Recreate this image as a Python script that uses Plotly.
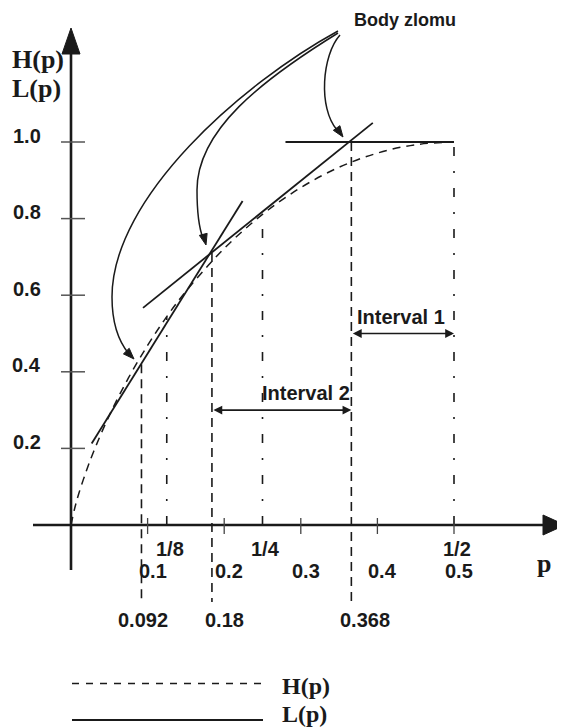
import plotly.graph_objects as go

# ---------------- data ----------------
p_grid = [0.0, 0.005, 0.01, 0.02, 0.03, 0.05, 0.075, 0.1, 0.125, 0.15, 0.2, 0.25, 0.3, 0.35, 0.4, 0.45, 0.5]
h_vals = [0.0, 0.045, 0.081, 0.141, 0.194, 0.286, 0.384, 0.469, 0.544, 0.610, 0.722, 0.811, 0.881, 0.934, 0.971, 0.993, 1.0]

lineA_p = [0.027, 0.224]
lineA_v = [0.213, 0.846]
lineB_p = [0.094, 0.394]
lineB_v = [0.567, 1.050]
lineC_p = [0.280, 0.500]
lineC_v = [1.0, 1.0]

break_p = [0.092, 0.184, 0.366]
break_v = [0.42, 0.71, 1.0]
break_labels = ["0.092", "0.18", "0.368"]

frac_p = [0.125, 0.25, 0.5]
frac_v = [0.544, 0.811, 1.0]
frac_labels = ["1/8", "1/4", "1/2"]

xtick_p = [0.1, 0.2, 0.3, 0.4, 0.5]
xtick_labels = ["0.1", "0.2", "0.3", "0.4", "0.5"]
ytick_v = [0.2, 0.4, 0.6, 0.8, 1.0]
ytick_labels = ["0.2", "0.4", "0.6", "0.8", "1.0"]

interval_names = ["Interval 1", "Interval 2"]
interval_from = [0.366, 0.184]
interval_to = [0.5, 0.366]
interval_v = [0.5, 0.3]

# ---------------- layout constants ----------------
W, H = 565, 728
PAGE = 8                     # default page margin of the html body
PX, PY = 766.0, 383.0        # pixels per data unit
OX, OY = 71.0, 525.0         # on-screen pixel position of the origin
INK = "#1a1a1a"
SANS = "Liberation Sans, Arial, sans-serif"
SERIF = "Liberation Serif, Times New Roman, serif"


def dx(px):
    return px / PX


def dy(px):
    return px / PY


def P(x, y):
    """on-screen pixel -> data string for decorative paths"""
    return f"{(x - OX) / PX:.5f},{(OY - y) / PY:.5f}"


def FX(px):
    return (px - PAGE) / W


def FY(py):
    return 1 - (py - PAGE) / H


fig = go.Figure()

# entropy curve H(p)
fig.add_trace(go.Scatter(x=p_grid, y=h_vals, mode="lines", line_shape="spline",
                         line=dict(color=INK, width=1.5, dash="8px,6px"),
                         hoverinfo="skip", showlegend=False))
# tangent lines L(p)
for xs, ys in [(lineA_p, lineA_v), (lineB_p, lineB_v), (lineC_p, lineC_v)]:
    fig.add_trace(go.Scatter(x=xs, y=ys, mode="lines",
                             line=dict(color=INK, width=1.8),
                             hoverinfo="skip", showlegend=False))
# break point verticals (dashed)
for bp, bv in zip(break_p, break_v):
    fig.add_trace(go.Scatter(x=[bp, bp], y=[bv, -dy(77)], mode="lines",
                             line=dict(color=INK, width=1.6, dash="9px,6px"),
                             hoverinfo="skip", showlegend=False))
# fraction verticals (dash-dot)
for fp, fv in zip(frac_p, frac_v):
    fig.add_trace(go.Scatter(x=[fp, fp], y=[0, fv], mode="lines",
                             line=dict(color=INK, width=1.6, dash="9px,15px,2px,15px"),
                             hoverinfo="skip", showlegend=False))

shapes = []
# axes
shapes.append(dict(type="line", xref="x", yref="y", x0=0, x1=0, y0=-dy(45), y1=dy(473),
                   line=dict(color=INK, width=2.6)))
shapes.append(dict(type="path", xref="x", yref="y",
                   path=f"M 0,{dy(497):.5f} L {-dx(9):.5f},{dy(471):.5f} L {dx(9):.5f},{dy(471):.5f} Z",
                   fillcolor=INK, line=dict(color=INK, width=1)))
shapes.append(dict(type="line", xref="x", yref="y", x0=-dx(38), x1=dx(476), y0=0, y1=0,
                   line=dict(color=INK, width=2.6)))
shapes.append(dict(type="path", xref="x", yref="y",
                   path=f"M {dx(494):.5f},0 L {dx(472):.5f},{dy(10):.5f} L {dx(472):.5f},{-dy(10):.5f} Z",
                   fillcolor=INK, line=dict(color=INK, width=1)))
# y ticks
for v in ytick_v:
    shapes.append(dict(type="line", xref="x", yref="y", x0=-dx(10), x1=dx(14), y0=v, y1=v,
                       line=dict(color="#555", width=1.5)))
# x ticks
for p in xtick_p:
    shapes.append(dict(type="line", xref="x", yref="y", x0=p, x1=p, y0=dy(7), y1=-dy(9),
                       line=dict(color="#444", width=1.3)))

# "Body zlomu" curved arrows
curves = [
    f"M {P(338,31)} C {P(243,83)} {P(112,197)} {P(112,297)} C {P(112,322)} {P(119,342)} {P(129,354)}",
    f"M {P(338,33)} C {P(262,80)} {P(197,130)} {P(197,190)} C {P(197,212)} {P(199,228)} {P(203,238)}",
    f"M {P(340,35)} C {P(322,55)} {P(318,108)} {P(337,130)}",
]
for c in curves:
    shapes.append(dict(type="path", xref="x", yref="y", path=c,
                       line=dict(color=INK, width=1.5)))

heads = [((134, 359), (0.70, 0.72)), ((206, 245), (0.25, 0.97)), ((343, 137), (0.58, 0.82))]
for (tx, ty), (ux, uy) in heads:
    L, Wd = 11, 4
    bx, by = tx - ux * L, ty - uy * L
    nx, ny = -uy, ux
    shapes.append(dict(type="path", xref="x", yref="y",
                       path=f"M {P(tx,ty)} L {P(bx+nx*Wd, by+ny*Wd)} L {P(bx-nx*Wd, by-ny*Wd)} Z",
                       fillcolor=INK, line=dict(color=INK, width=1)))

# legend samples
shapes.append(dict(type="line", xref="paper", yref="paper", x0=FX(72), x1=FX(263),
                   y0=FY(683.5), y1=FY(683.5),
                   line=dict(color=INK, width=1.6, dash="7px,7px")))
shapes.append(dict(type="line", xref="paper", yref="paper", x0=FX(72), x1=FX(263),
                   y0=FY(720), y1=FY(720),
                   line=dict(color=INK, width=1.8)))

ann = []
lab_font = dict(family=SANS, size=20, color=INK)
# y tick labels
for v, t in zip(ytick_v, ytick_labels):
    ann.append(dict(x=0, y=v, xref="x", yref="y", text=f"<b>{t}</b>", showarrow=False,
                    xanchor="right", yanchor="middle", xshift=-28, yshift=6.5, font=lab_font))
# fraction labels
for p, t in zip(frac_p, frac_labels):
    ann.append(dict(x=p, y=0, xref="x", yref="y", text=f"<b>{t}</b>", showarrow=False,
                    xanchor="center", yanchor="middle", xshift=3, yshift=-24, font=lab_font))
# decimal labels
for p, t in zip(xtick_p, xtick_labels):
    ann.append(dict(x=p, y=0, xref="x", yref="y", text=f"<b>{t}</b>", showarrow=False,
                    xanchor="center", yanchor="middle", xshift=5, yshift=-45.5, font=lab_font))
# break point labels
for p, t, s in zip(break_p, break_labels, [2, 13, 14]):
    ann.append(dict(x=p, y=0, xref="x", yref="y", text=f"<b>{t}</b>", showarrow=False,
                    xanchor="center", yanchor="middle", xshift=s, yshift=-95, font=lab_font))
# interval arrows + labels
for name, a, b, v, lx in zip(interval_names, interval_from, interval_to, interval_v, [0.431, 0.307]):
    ann.append(dict(x=b, y=v, ax=a, ay=v, xref="x", yref="y", axref="x", ayref="y",
                    text="", showarrow=True, arrowside="end+start", arrowhead=2,
                    arrowsize=1.1, arrowwidth=1.6, arrowcolor=INK, standoff=0, startstandoff=0))
    ann.append(dict(x=lx, y=v, xref="x", yref="y", text=f"<b>{name}</b>", showarrow=False,
                    xanchor="center", yanchor="middle", yshift=17, font=lab_font))
# Body zlomu
ann.append(dict(x=FX(405), y=FY(20), xref="paper", yref="paper", text="<b>Body zlomu</b>",
                showarrow=False, xanchor="center", yanchor="middle",
                font=dict(family=SANS, size=18, color=INK)))
# axis titles
ser_font = dict(family=SERIF, size=26, color=INK)
ann.append(dict(x=FX(10), y=FY(60), xref="paper", yref="paper", text="<b>H(p)</b>",
                showarrow=False, xanchor="left", yanchor="middle", font=ser_font))
ann.append(dict(x=FX(10), y=FY(88.5), xref="paper", yref="paper", text="<b>L(p)</b>",
                showarrow=False, xanchor="left", yanchor="middle", font=ser_font))
ann.append(dict(x=FX(544), y=FY(563), xref="paper", yref="paper", text="<b>p</b>",
                showarrow=False, xanchor="center", yanchor="middle", font=ser_font))
# legend labels
leg_font = dict(family=SERIF, size=24, color=INK)
ann.append(dict(x=FX(280), y=FY(686), xref="paper", yref="paper", text="<b>H(p)</b>",
                showarrow=False, xanchor="left", yanchor="middle", font=leg_font))
ann.append(dict(x=FX(280), y=FY(714), xref="paper", yref="paper", text="<b>L(p)</b>",
                showarrow=False, xanchor="left", yanchor="middle", font=leg_font))

fig.update_layout(
    width=W, height=H, margin=dict(l=0, r=0, t=0, b=0),
    paper_bgcolor="white", plot_bgcolor="white",
    xaxis=dict(visible=False, range=[-(OX - PAGE) / PX, (W - (OX - PAGE)) / PX], fixedrange=True),
    yaxis=dict(visible=False, range=[(OY - PAGE - H) / PY, (OY - PAGE) / PY], fixedrange=True),
    shapes=shapes, annotations=ann, showlegend=False,
)

fig.write_html("out.html")
